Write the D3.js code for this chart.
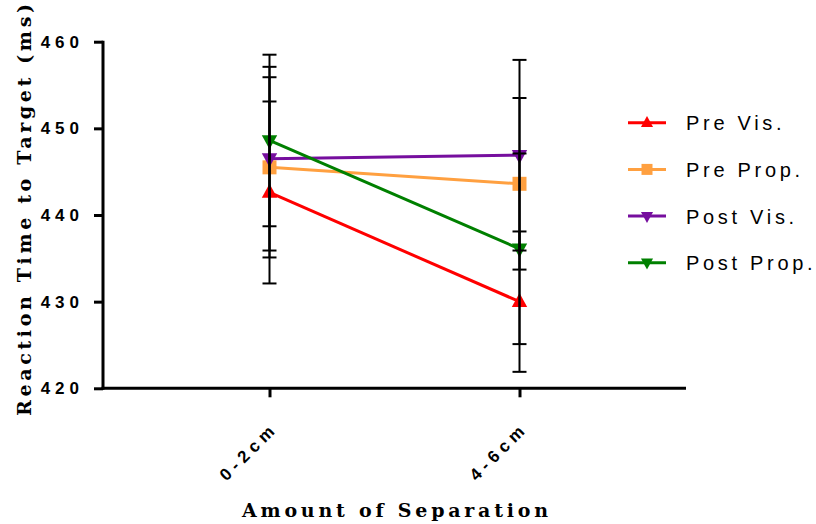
<!DOCTYPE html>
<html>
<head>
<meta charset="utf-8">
<script src="https://cdn.jsdelivr.net/npm/d3@7/dist/d3.min.js"></script>
<style>
  html, body { margin: 0; padding: 0; background: #fff; }
  svg { display: block; }
</style>
</head>
<body>
<svg id="chart" width="816" height="524"></svg>
<script>
// Mean reaction times (ms) with symmetric error bars, by amount of separation
const categories = ["0-2cm", "4-6cm"];
const seriesNames = ["Pre Vis.", "Pre Prop.", "Post Vis.", "Post Prop."];
const preVis = [442.6, 430.0];
const preVisErr = [10.5, 8.1];
const preProp = [445.5, 443.6];
const prePropErr = [10.4, 9.9];
const postVis = [446.5, 446.9];
const postVisErr = [10.6, 11.0];
const postProp = [448.6, 436.1];
const postPropErr = [9.9, 11.0];
const yTicks = [420, 430, 440, 450, 460];

const colors = ["#FF0000", "#FFA040", "#760E9E", "#008000"];
const shapes = ["up", "square", "down", "down"];

const series = [
  { name: seriesNames[0], values: preVis, errs: preVisErr },
  { name: seriesNames[1], values: preProp, errs: prePropErr },
  { name: seriesNames[2], values: postVis, errs: postVisErr },
  { name: seriesNames[3], values: postProp, errs: postPropErr }
].map((s, i) => ({ ...s, color: colors[i], shape: shapes[i] }));

const svg = d3.select("#chart");
const plotLeft = 103, plotRight = 686, plotTop = 41.7, plotBottom = 388.3;

const x = d3.scalePoint().domain(categories).range([plotLeft, plotRight]).padding(0.666);
const y = d3.scaleLinear().domain([420, 460]).range([plotBottom, plotTop]);

// Marker path generator
function marker(shape, size) {
  const h = size;
  if (shape === "square") {
    const s = size / 2;
    return `M${-s},${-s}H${s}V${s}H${-s}Z`;
  }
  if (shape === "up") {
    return `M0,${-h * 0.62}L${h * 0.55},${h * 0.38}L${-h * 0.55},${h * 0.38}Z`;
  }
  return `M0,${h * 0.62}L${h * 0.55},${-h * 0.38}L${-h * 0.55},${-h * 0.38}Z`;
}

// Series lines
const line = d3.line().x((d, i) => x(categories[i])).y(d => y(d));
const g = svg.append("g");
series.forEach(s => {
  g.append("path")
    .attr("d", line(s.values))
    .attr("fill", "none")
    .attr("stroke", s.color)
    .attr("stroke-width", 3);
});
// Markers
series.forEach(s => {
  s.values.forEach((v, i) => {
    g.append("path")
      .attr("transform", `translate(${x(categories[i])},${y(v)})`)
      .attr("d", marker(s.shape, 14))
      .attr("fill", s.color);
  });
});
// Error bars (drawn above markers)
const eb = svg.append("g").attr("stroke", "#000").attr("stroke-width", 2);
series.forEach(s => {
  s.values.forEach((v, i) => {
    const cx = x(categories[i]);
    const lo = y(v - s.errs[i]), hi = y(v + s.errs[i]);
    eb.append("line").attr("x1", cx).attr("x2", cx).attr("y1", lo).attr("y2", hi);
    eb.append("line").attr("x1", cx - 7).attr("x2", cx + 7).attr("y1", lo).attr("y2", lo);
    eb.append("line").attr("x1", cx - 7).attr("x2", cx + 7).attr("y1", hi).attr("y2", hi);
  });
});

// Y axis
const yAxis = svg.append("g")
  .attr("transform", `translate(${plotLeft},0)`)
  .call(d3.axisLeft(y).tickValues(yTicks).tickSize(9).tickPadding(10).tickFormat(d3.format("d")));
yAxis.select(".domain").attr("stroke-width", 3).attr("d", `M0,${plotTop - 1}V${plotBottom + 1.5}`);
yAxis.selectAll(".tick line").attr("stroke-width", 3);
yAxis.selectAll(".tick text")
  .attr("font-family", "Liberation Sans, Arial, sans-serif")
  .attr("font-weight", "bold")
  .attr("font-size", 17)
  .attr("letter-spacing", 5)
  .attr("fill", "#000");

// X axis
const xAxis = svg.append("g")
  .attr("transform", `translate(0,${plotBottom})`)
  .call(d3.axisBottom(x).tickSize(9).tickPadding(4));
xAxis.select(".domain").attr("stroke-width", 3).attr("d", `M${plotLeft - 1.5},0H${plotRight}`);
xAxis.selectAll(".tick line").attr("stroke-width", 3);
xAxis.selectAll(".tick text")
  .attr("font-family", "Liberation Sans, Arial, sans-serif")
  .attr("font-weight", "bold")
  .attr("font-size", 17)
  .attr("letter-spacing", 5)
  .attr("fill", "#000")
  .attr("text-anchor", "end")
  .attr("x", 0)
  .attr("y", 0)
  .attr("dy", null)
  .attr("transform", "translate(9,41) rotate(-45)");

// Axis titles
svg.append("text")
  .attr("transform", "translate(31,416) rotate(-90)")
  .attr("font-family", "DejaVu Serif, serif")
  .attr("font-weight", "bold")
  .attr("font-size", 19)
  .attr("textLength", 412)
  .attr("lengthAdjust", "spacing")
  .text("Reaction Time to Target (ms)");

svg.append("text")
  .attr("x", 242)
  .attr("y", 517)
  .attr("font-family", "DejaVu Serif, serif")
  .attr("font-weight", "bold")
  .attr("font-size", 19)
  .attr("textLength", 306)
  .attr("lengthAdjust", "spacing")
  .text("Amount of Separation");

// Legend
const legend = svg.append("g");
series.forEach((s, i) => {
  const ly = 122.7 + i * 46.7;
  legend.append("line")
    .attr("x1", 628).attr("x2", 666).attr("y1", ly).attr("y2", ly)
    .attr("stroke", s.color).attr("stroke-width", 3);
  legend.append("path")
    .attr("transform", `translate(647,${ly})`)
    .attr("d", marker(s.shape, 11))
    .attr("fill", s.color);
  legend.append("text")
    .attr("x", 686)
    .attr("y", ly + 7.5)
    .attr("font-family", "Liberation Sans, Arial, sans-serif")
    .attr("font-size", 20)
    .attr("letter-spacing", 3.7)
    .attr("fill", "#000")
    .text(s.name);
});
</script>
</body>
</html>
